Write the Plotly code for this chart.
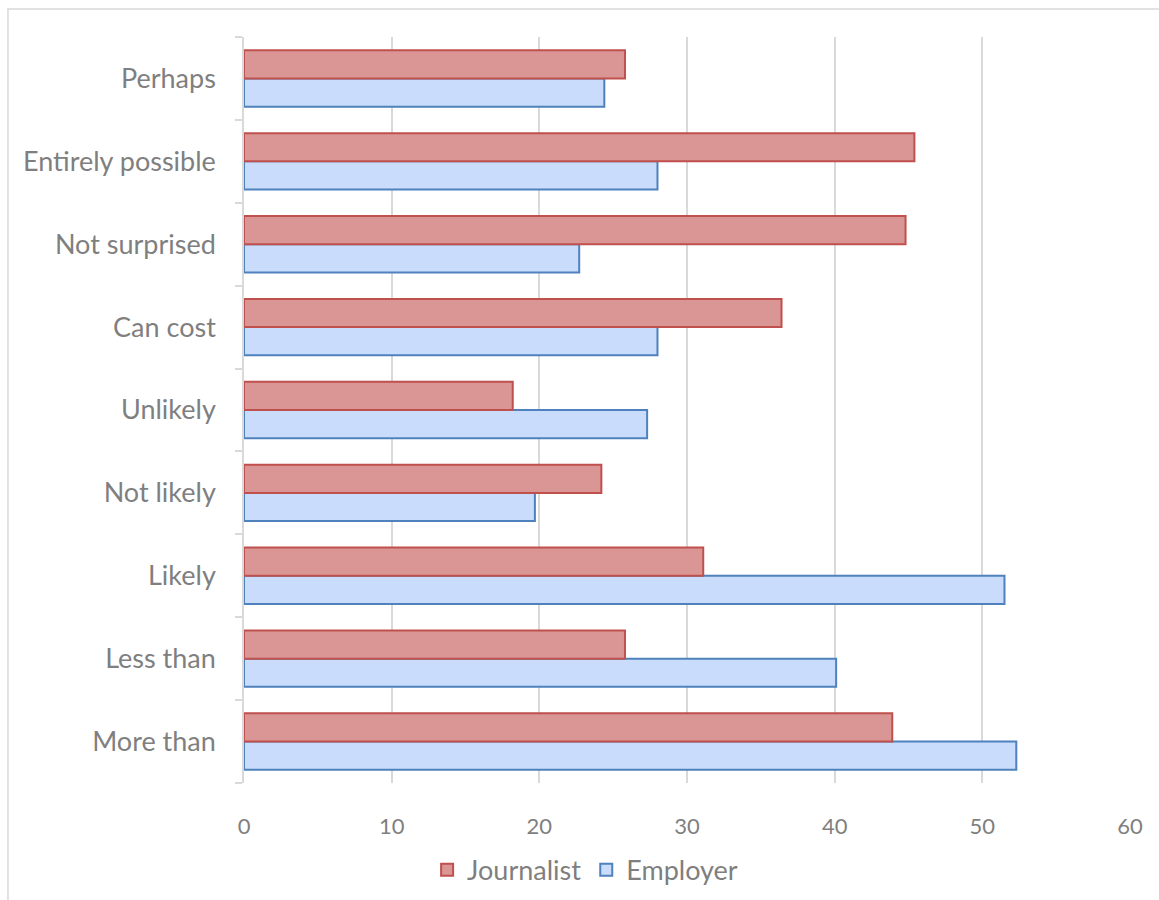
import plotly.graph_objects as go

categories = ["More than", "Less than", "Likely", "Not likely", "Unlikely",
              "Can cost", "Not surprised", "Entirely possible", "Perhaps"]
journalist = [43.9, 25.8, 31.1, 24.2, 18.2, 36.4, 44.8, 45.4, 25.8]
employer = [52.3, 40.1, 51.5, 19.7, 27.3, 28.0, 22.7, 28.0, 24.4]
x_ticks = [0, 10, 20, 30, 40, 50, 60]

font_family = "Lato, Open Sans, sans-serif"
grey = "#7f7f7f"

fig = go.Figure()
fig.add_trace(go.Bar(
    y=categories, x=employer, orientation="h", name="Employer",
    marker=dict(color="#c9dcfb", line=dict(color="#4f81bd", width=2)),
    legendrank=2,
))
fig.add_trace(go.Bar(
    y=categories, x=journalist, orientation="h", name="Journalist",
    marker=dict(color="#d99694", line=dict(color="#c0504d", width=2)),
    legendrank=1,
))

fig.update_layout(
    width=1159, height=900,
    margin=dict(l=244, r=29, t=37, b=117, autoexpand=False),
    paper_bgcolor="white", plot_bgcolor="white",
    barmode="group", bargap=0.32, bargroupgap=0,
    font=dict(family=font_family, color=grey),
    showlegend=True,
    legend=dict(orientation="h", x=0.385, xanchor="center", y=-0.117,
                yanchor="middle", font=dict(size=27, color=grey),
                itemwidth=30, traceorder="normal"),
    xaxis=dict(range=[0, 60], tickvals=x_ticks, showgrid=True,
               gridcolor="#d9d9d9", gridwidth=1.5, zeroline=False,
               showline=False, ticks="", ticklabelstandoff=28,
               tickfont=dict(size=22, color=grey)),
    yaxis=dict(categoryorder="array", categoryarray=categories,
               showline=True, linecolor="#d9d9d9", linewidth=1.5,
               ticks="outside", tickson="boundaries", ticklen=7,
               tickcolor="#d9d9d9", tickwidth=1.5,
               tickfont=dict(size=27, color=grey), ticklabelstandoff=21),
    shapes=[dict(type="rect", xref="paper", yref="paper",
                 x0=-0.2664, x1=1.2, y0=-0.3, y1=1.0375,
                 line=dict(color="#d9d9d9", width=1.5), layer="below")],
)

fig.write_html("out.html")
